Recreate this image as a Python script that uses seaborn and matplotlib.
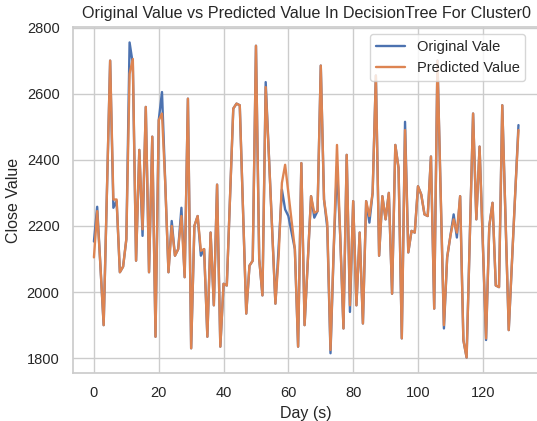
import numpy as np
import pandas as pd
import matplotlib
matplotlib.use("Agg")
import matplotlib.pyplot as plt
import seaborn as sns

days = list(range(132))

original = [
    2153, 2258, 2080, 1900, 2300, 2700, 2255, 2275, 2060, 2077,
    2160, 2755, 2690, 2095, 2430, 2170, 2560, 2060, 2470, 1865,
    2520, 2605, 2330, 2060, 2215, 2110, 2130, 2255, 2045, 2585,
    1830, 2200, 2230, 2110, 2130, 1865, 2180, 1960, 2325, 1835,
    2025, 2020, 2290, 2555, 2570, 2565, 2250, 1935, 2080, 2095,
    2745, 2100, 1990, 2635, 2410, 2190, 1965, 2140, 2310, 2250,
    2230, 2180, 2130, 1835, 2390, 1900, 2095, 2290, 2225, 2245,
    2685, 2280, 2195, 1815, 2130, 2380, 2170, 1890, 2415, 1940,
    2275, 1960, 2180, 1905, 2275, 2210, 2300, 2655, 2110, 2290,
    2220, 2300, 1995, 2445, 2375, 1860, 2515, 2120, 2185, 2180,
    2320, 2295, 2235, 2230, 2410, 1950, 2700, 2300, 1890, 2105,
    2170, 2235, 2165, 2290, 1855, 1802, 2170, 2540, 2220, 2440,
    2150, 1855, 2200, 2270, 2020, 2015, 2565, 2225, 1885, 2090,
    2300, 2505,
]

predicted = [
    2105, 2245, 2080, 1900, 2300, 2700, 2280, 2280, 2060, 2077,
    2160, 2660, 2705, 2095, 2430, 2190, 2560, 2060, 2470, 1865,
    2520, 2540, 2330, 2060, 2200, 2110, 2130, 2230, 2045, 2585,
    1830, 2200, 2230, 2125, 2130, 1865, 2180, 1960, 2325, 1835,
    2025, 2020, 2290, 2555, 2570, 2565, 2250, 1935, 2080, 2095,
    2745, 2100, 1990, 2620, 2410, 2190, 1965, 2110, 2330, 2385,
    2300, 2215, 2130, 1835, 2390, 1900, 2095, 2290, 2240, 2245,
    2685, 2280, 2210, 1825, 2130, 2445, 2170, 1890, 2415, 1960,
    2275, 1960, 2180, 1905, 2275, 2230, 2300, 2655, 2110, 2290,
    2220, 2300, 1995, 2445, 2375, 1860, 2490, 2120, 2185, 2180,
    2320, 2295, 2235, 2230, 2410, 1950, 2700, 2300, 1900, 2105,
    2170, 2220, 2180, 2290, 1855, 1802, 2170, 2540, 2220, 2440,
    2150, 1860, 2200, 2270, 2020, 2015, 2565, 2225, 1885, 2090,
    2300, 2490,
]

title = "Original Value vs Predicted Value In DecisionTree For Cluster0"
xlabel = "Day (s)"
ylabel = "Close Value"
labels = ["Original Vale", "Predicted Value"]

sns.set_theme(style="whitegrid")
plt.rcParams["font.family"] = ["Liberation Sans", "DejaVu Sans"]

fig = plt.figure(figsize=(5.37, 4.21), dpi=100)
ax = fig.add_axes([0.1354, 0.1133, 0.8696, 0.8233])

df = pd.DataFrame({"day": days, "orig": original, "pred": predicted})
sns.lineplot(data=df, x="day", y="orig", ax=ax, color="#4C72B0", linewidth=1.7, label=labels[0])
sns.lineplot(data=df, x="day", y="pred", ax=ax, color="#DD8452", linewidth=1.7, label=labels[1])

ax.set_yticks([1800, 2000, 2200, 2400, 2600, 2800])
ax.set_xticks([0, 20, 40, 60, 80, 100, 120])
ax.tick_params(labelsize=10.5)
ax.set_title(title, fontsize=11.6)
ax.set_xlabel(xlabel, fontsize=11.5)
ax.set_ylabel(ylabel, fontsize=11.5)
ax.legend(loc="upper right", fontsize=10.5, bbox_to_anchor=(0.985, 1.0))

fig.savefig("out.png", dpi=100)
